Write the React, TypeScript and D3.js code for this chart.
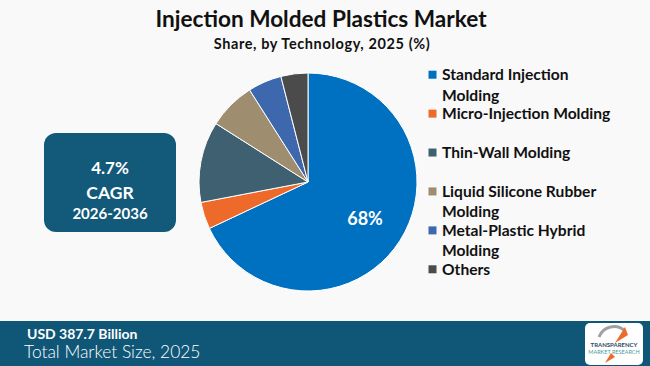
import React from 'react';
import * as d3 from 'd3';

const categories = [
  'Standard Injection Molding',
  'Micro-Injection Molding',
  'Thin-Wall Molding',
  'Liquid Silicone Rubber Molding',
  'Metal-Plastic Hybrid Molding',
  'Others'
];
const legendLines = [
  ['Standard Injection', 'Molding'],
  ['Micro-Injection Molding'],
  ['Thin-Wall Molding'],
  ['Liquid Silicone Rubber', 'Molding'],
  ['Metal-Plastic Hybrid', 'Molding'],
  ['Others']
];
const shares = [68, 4, 12, 7, 5, 4];
const colors = ['#0070C0', '#EE6A2A', '#3E6070', '#9E8D6F', '#3E68AE', '#4B4B4B'];

const title = 'Injection Molded Plastics Market';
const subtitle = 'Share, by Technology, 2025 (%)';
const cagr = ['4.7%', 'CAGR', '2026-2036'];
const marketSize = 'USD 387.7 Billion';
const marketLabel = 'Total Market Size, 2025';

const W = 650;
const H = 366;
const font = 'Lato, "Open Sans", sans-serif';

export default function App() {
  const cx = 308;
  const cy = 182;
  const r = 109;

  const pie = d3
    .pie<number>()
    .sort(null)
    .value(d => d);
  const arcs = pie(shares);
  const arc = d3.arc<d3.PieArcDatum<number>>().innerRadius(0).outerRadius(r);
  const labelArc = d3.arc<d3.PieArcDatum<number>>().innerRadius(r * 0.62).outerRadius(r * 0.62);

  const legendY = d3
    .scalePoint<string>()
    .domain(categories)
    .range([74.7, 269.3]);

  return (
    <svg
      width={W}
      height={H}
      style={{ position: 'fixed', left: 0, top: 0, display: 'block' }}
      fontFamily={font}
    >
      <rect width={W} height={H} fill="#F9F9F9" />

      <text x={321} y={27} textAnchor="middle" fontSize={22.6} fontWeight={700} fill="#111">
        {title}
      </text>
      <text x={322} y={49} textAnchor="middle" fontSize={14.5} fontWeight={700} letterSpacing={0.6} fill="#111">
        {subtitle}
      </text>

      <g transform={`translate(${cx},${cy})`}>
        {arcs.map((a, i) => (
          <path key={i} d={arc(a) || ''} fill={colors[i]} stroke="#fff" strokeWidth={1} />
        ))}
        {(() => {
          const [lx, ly] = labelArc.centroid(arcs[0]);
          return (
            <text x={lx} y={ly} dy="0.35em" textAnchor="middle" fontSize={18} fontWeight={700} fill="#fff">
              {shares[0]}%
            </text>
          );
        })()}
      </g>

      <g>
        {categories.map((c, i) => {
          const y = legendY(c) as number;
          return (
            <g key={c}>
              <rect x={428.5} y={y - 4} width={8} height={8} fill={colors[i]} />
              {legendLines[i].map((line, j) => (
                <text key={j} x={442} y={y + 5.5 + j * 20.5} fontSize={15.6} fontWeight={700} fill="#111">
                  {line}
                </text>
              ))}
            </g>
          );
        })}
      </g>

      <rect x={44} y={133} width={132} height={99} rx={12} fill="#13597A" />
      <text x={110} y={174} textAnchor="middle" fontSize={17} fontWeight={700} fill="#fff">
        {cagr[0]}
      </text>
      <text x={110} y={199} textAnchor="middle" fontSize={17.5} fontWeight={700} fill="#fff">
        {cagr[1]}
      </text>
      <text x={110} y={219} textAnchor="middle" fontSize={15} fontWeight={700} fill="#fff">
        {cagr[2]}
      </text>

      <rect x={0} y={321} width={W} height={H - 321} fill="#105777" />
      <text x={27} y={339} fontSize={14} fontWeight={700} fill="#fff">
        {marketSize}
      </text>
      <text x={24} y={358} fontSize={17.4} fontWeight={300} fill="#fff">
        {marketLabel}
      </text>

      <g transform="translate(585,323)">
        <rect width={58} height={42} rx={5} fill="#fff" />
        <path d="M14,14 A16,16 0 0 1 40,8" fill="none" stroke="#A0A0A0" strokeWidth={3} />
        <path d="M30,20 L40,4 L43,12 Z" fill="#EE6A2A" />
        <path d="M26,30 L20,40 L30,34 Z" fill="#EE6A2A" />
        <text x={29} y={24} textAnchor="middle" fontSize={6} fontWeight={700} fill="#2A4A6A">
          TRANSPARENCY
        </text>
        <text x={29} y={31} textAnchor="middle" fontSize={5.5} fill="#4C9A9A">
          MARKET RESEARCH
        </text>
      </g>
    </svg>
  );
}
